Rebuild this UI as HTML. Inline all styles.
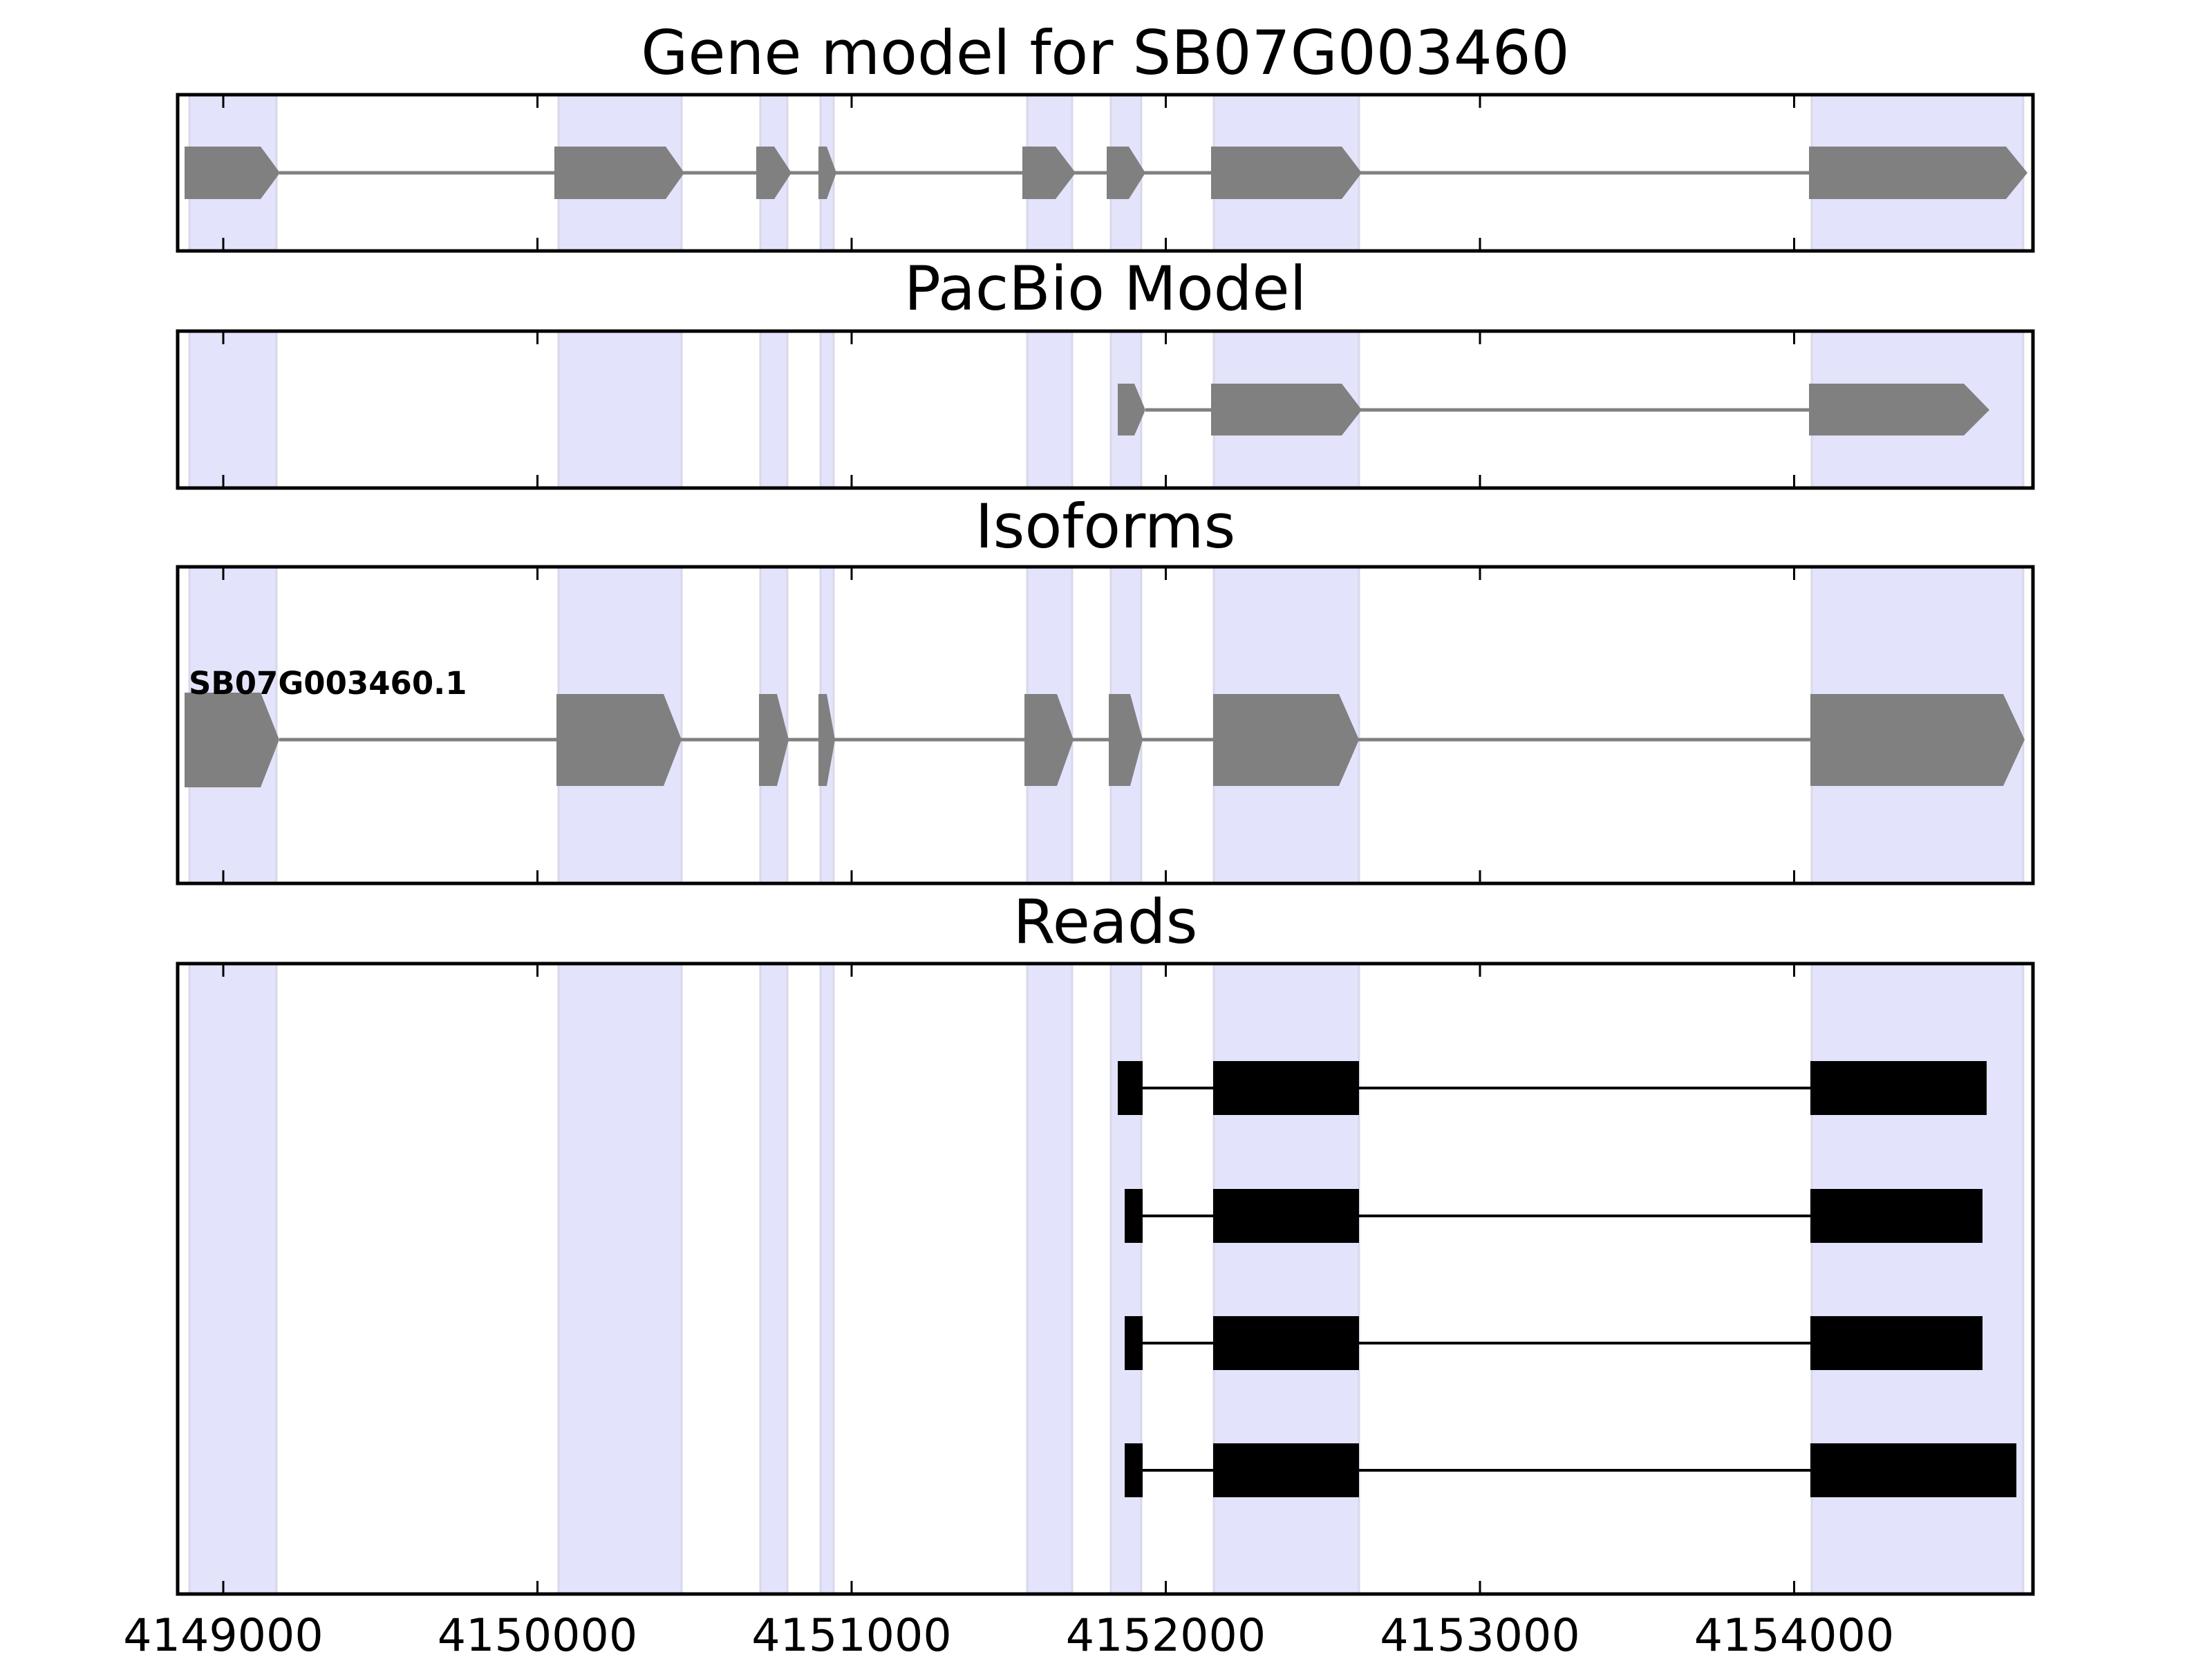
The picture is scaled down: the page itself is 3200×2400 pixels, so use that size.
<!DOCTYPE html>
<html><head><meta charset="utf-8"><style>
html,body{margin:0;padding:0;background:#fff;}
svg{display:block;}
text{font-family:"DejaVu Sans","Liberation Sans",sans-serif;}
</style></head><body>
<svg width="3200" height="2400" viewBox="0 0 3200 2400" xmlns="http://www.w3.org/2000/svg">
<defs>
<g id="bands">
<rect x="273" y="0" width="127" height="1" />
</g>
</defs>
<rect width="3200" height="2400" fill="#fff"/>

<!-- shading bands per panel -->
<g fill="#e3e3fc" stroke="#d8d8ea" stroke-width="3">
<rect x="274" y="137" width="126" height="226"/><rect x="808" y="137" width="178" height="226"/><rect x="1100" y="137" width="39" height="226"/><rect x="1187" y="137" width="19" height="226"/><rect x="1486" y="137" width="65" height="226"/><rect x="1607" y="137" width="44" height="226"/><rect x="1756" y="137" width="210" height="226"/><rect x="2621" y="137" width="306" height="226"/>
<rect x="274" y="479" width="126" height="227"/><rect x="808" y="479" width="178" height="227"/><rect x="1100" y="479" width="39" height="227"/><rect x="1187" y="479" width="19" height="227"/><rect x="1486" y="479" width="65" height="227"/><rect x="1607" y="479" width="44" height="227"/><rect x="1756" y="479" width="210" height="227"/><rect x="2621" y="479" width="306" height="227"/>
<rect x="274" y="820" width="126" height="458"/><rect x="808" y="820" width="178" height="458"/><rect x="1100" y="820" width="39" height="458"/><rect x="1187" y="820" width="19" height="458"/><rect x="1486" y="820" width="65" height="458"/><rect x="1607" y="820" width="44" height="458"/><rect x="1756" y="820" width="210" height="458"/><rect x="2621" y="820" width="306" height="458"/>
<rect x="274" y="1394" width="126" height="912"/><rect x="808" y="1394" width="178" height="912"/><rect x="1100" y="1394" width="39" height="912"/><rect x="1187" y="1394" width="19" height="912"/><rect x="1486" y="1394" width="65" height="912"/><rect x="1607" y="1394" width="44" height="912"/><rect x="1756" y="1394" width="210" height="912"/><rect x="2621" y="1394" width="306" height="912"/>
</g>

<!-- Panel 1 gene model -->
<line x1="404" y1="250" x2="2620" y2="250" stroke="#808080" stroke-width="5"/>
<g fill="#808080">
<polygon points="267,212 377,212 405,250 377,288 267,288"/>
<polygon points="802,212 963,212 990,250 963,288 802,288"/>
<polygon points="1094,212 1120,212 1145,250 1120,288 1094,288"/>
<polygon points="1184,212 1196,212 1210,250 1196,288 1184,288"/>
<polygon points="1479,212 1527,212 1556,250 1527,288 1479,288"/>
<polygon points="1601,212 1633,212 1657,250 1633,288 1601,288"/>
<polygon points="1752,212 1941,212 1970,250 1941,288 1752,288"/>
<polygon points="2617,212 2902,212 2933,250 2902,288 2617,288"/>
</g>

<!-- Panel 2 PacBio -->
<line x1="1657" y1="593" x2="2620" y2="593" stroke="#808080" stroke-width="5"/>
<g fill="#808080">
<polygon points="1617,555 1641,555 1657,593 1641,630 1617,630"/>
<polygon points="1752,555 1941,555 1970,593 1941,630 1752,630"/>
<polygon points="2617,555 2841,555 2878,593 2841,630 2617,630"/>
</g>

<!-- Panel 3 Isoforms -->
<line x1="404" y1="1070" x2="2620" y2="1070" stroke="#808080" stroke-width="5"/>
<g fill="#808080">
<polygon points="267,1002 377,1002 404,1070 377,1139 267,1139"/>
<polygon points="805,1004 960,1004 986,1070 960,1137 805,1137"/>
<polygon points="1098,1004 1124,1004 1141,1070 1124,1137 1098,1137"/>
<polygon points="1184,1004 1196,1004 1208,1070 1196,1137 1184,1137"/>
<polygon points="1482,1004 1529,1004 1553,1070 1529,1137 1482,1137"/>
<polygon points="1604,1004 1635,1004 1653,1070 1635,1137 1604,1137"/>
<polygon points="1755,1004 1937,1004 1966,1070 1937,1137 1755,1137"/>
<polygon points="2619,1004 2898,1004 2929,1070 2898,1137 2619,1137"/>
</g>
<text x="273" y="1004" font-size="45" font-weight="bold" fill="#000">SB07G003460.1</text>

<!-- Panel 4 Reads -->
<g stroke="#000" stroke-width="4">
<line x1="1653" y1="1574" x2="2619" y2="1574"/>
<line x1="1653" y1="1759" x2="2619" y2="1759"/>
<line x1="1653" y1="1943" x2="2619" y2="1943"/>
<line x1="1653" y1="2127" x2="2619" y2="2127"/>
</g>
<g fill="#000">
<rect x="1617" y="1535" width="36" height="78"/><rect x="1755" y="1535" width="211" height="78"/><rect x="2619" y="1535" width="255" height="78"/>
<rect x="1627" y="1720" width="26" height="78"/><rect x="1755" y="1720" width="211" height="78"/><rect x="2619" y="1720" width="249" height="78"/>
<rect x="1627" y="1904" width="26" height="78"/><rect x="1755" y="1904" width="211" height="78"/><rect x="2619" y="1904" width="249" height="78"/>
<rect x="1627" y="2088" width="26" height="78"/><rect x="1755" y="2088" width="211" height="78"/><rect x="2619" y="2088" width="298" height="78"/>
</g>

<!-- ticks -->
<g stroke="#000" stroke-width="3">
<path d="M323,137v19M777.5,137v19M1232,137v19M1686.5,137v19M2141,137v19M2595.5,137v19 M323,363v-19M777.5,363v-19M1232,363v-19M1686.5,363v-19M2141,363v-19M2595.5,363v-19"/>
<path d="M323,479v19M777.5,479v19M1232,479v19M1686.5,479v19M2141,479v19M2595.5,479v19 M323,706v-19M777.5,706v-19M1232,706v-19M1686.5,706v-19M2141,706v-19M2595.5,706v-19"/>
<path d="M323,820v19M777.5,820v19M1232,820v19M1686.5,820v19M2141,820v19M2595.5,820v19 M323,1278v-19M777.5,1278v-19M1232,1278v-19M1686.5,1278v-19M2141,1278v-19M2595.5,1278v-19"/>
<path d="M323,1394v19M777.5,1394v19M1232,1394v19M1686.5,1394v19M2141,1394v19M2595.5,1394v19 M323,2306v-19M777.5,2306v-19M1232,2306v-19M1686.5,2306v-19M2141,2306v-19M2595.5,2306v-19"/>
</g>

<!-- frames -->
<g fill="none" stroke="#000" stroke-width="5">
<rect x="257" y="137" width="2684" height="226"/>
<rect x="257" y="479" width="2684" height="227"/>
<rect x="257" y="820" width="2684" height="458"/>
<rect x="257" y="1394" width="2684" height="912"/>
</g>

<!-- titles -->
<g font-size="88" text-anchor="middle" fill="#000">
<text x="1599" y="107">Gene model for SB07G003460</text>
<text x="1599" y="448">PacBio Model</text>
<text x="1599" y="792">Isoforms</text>
<text x="1599" y="1364">Reads</text>
</g>

<!-- tick labels -->
<g font-size="65" text-anchor="middle" fill="#000">
<text x="323" y="2388">4149000</text>
<text x="777.5" y="2388">4150000</text>
<text x="1232" y="2388">4151000</text>
<text x="1686.5" y="2388">4152000</text>
<text x="2141" y="2388">4153000</text>
<text x="2595.5" y="2388">4154000</text>
</g>
</svg>
</body></html>
